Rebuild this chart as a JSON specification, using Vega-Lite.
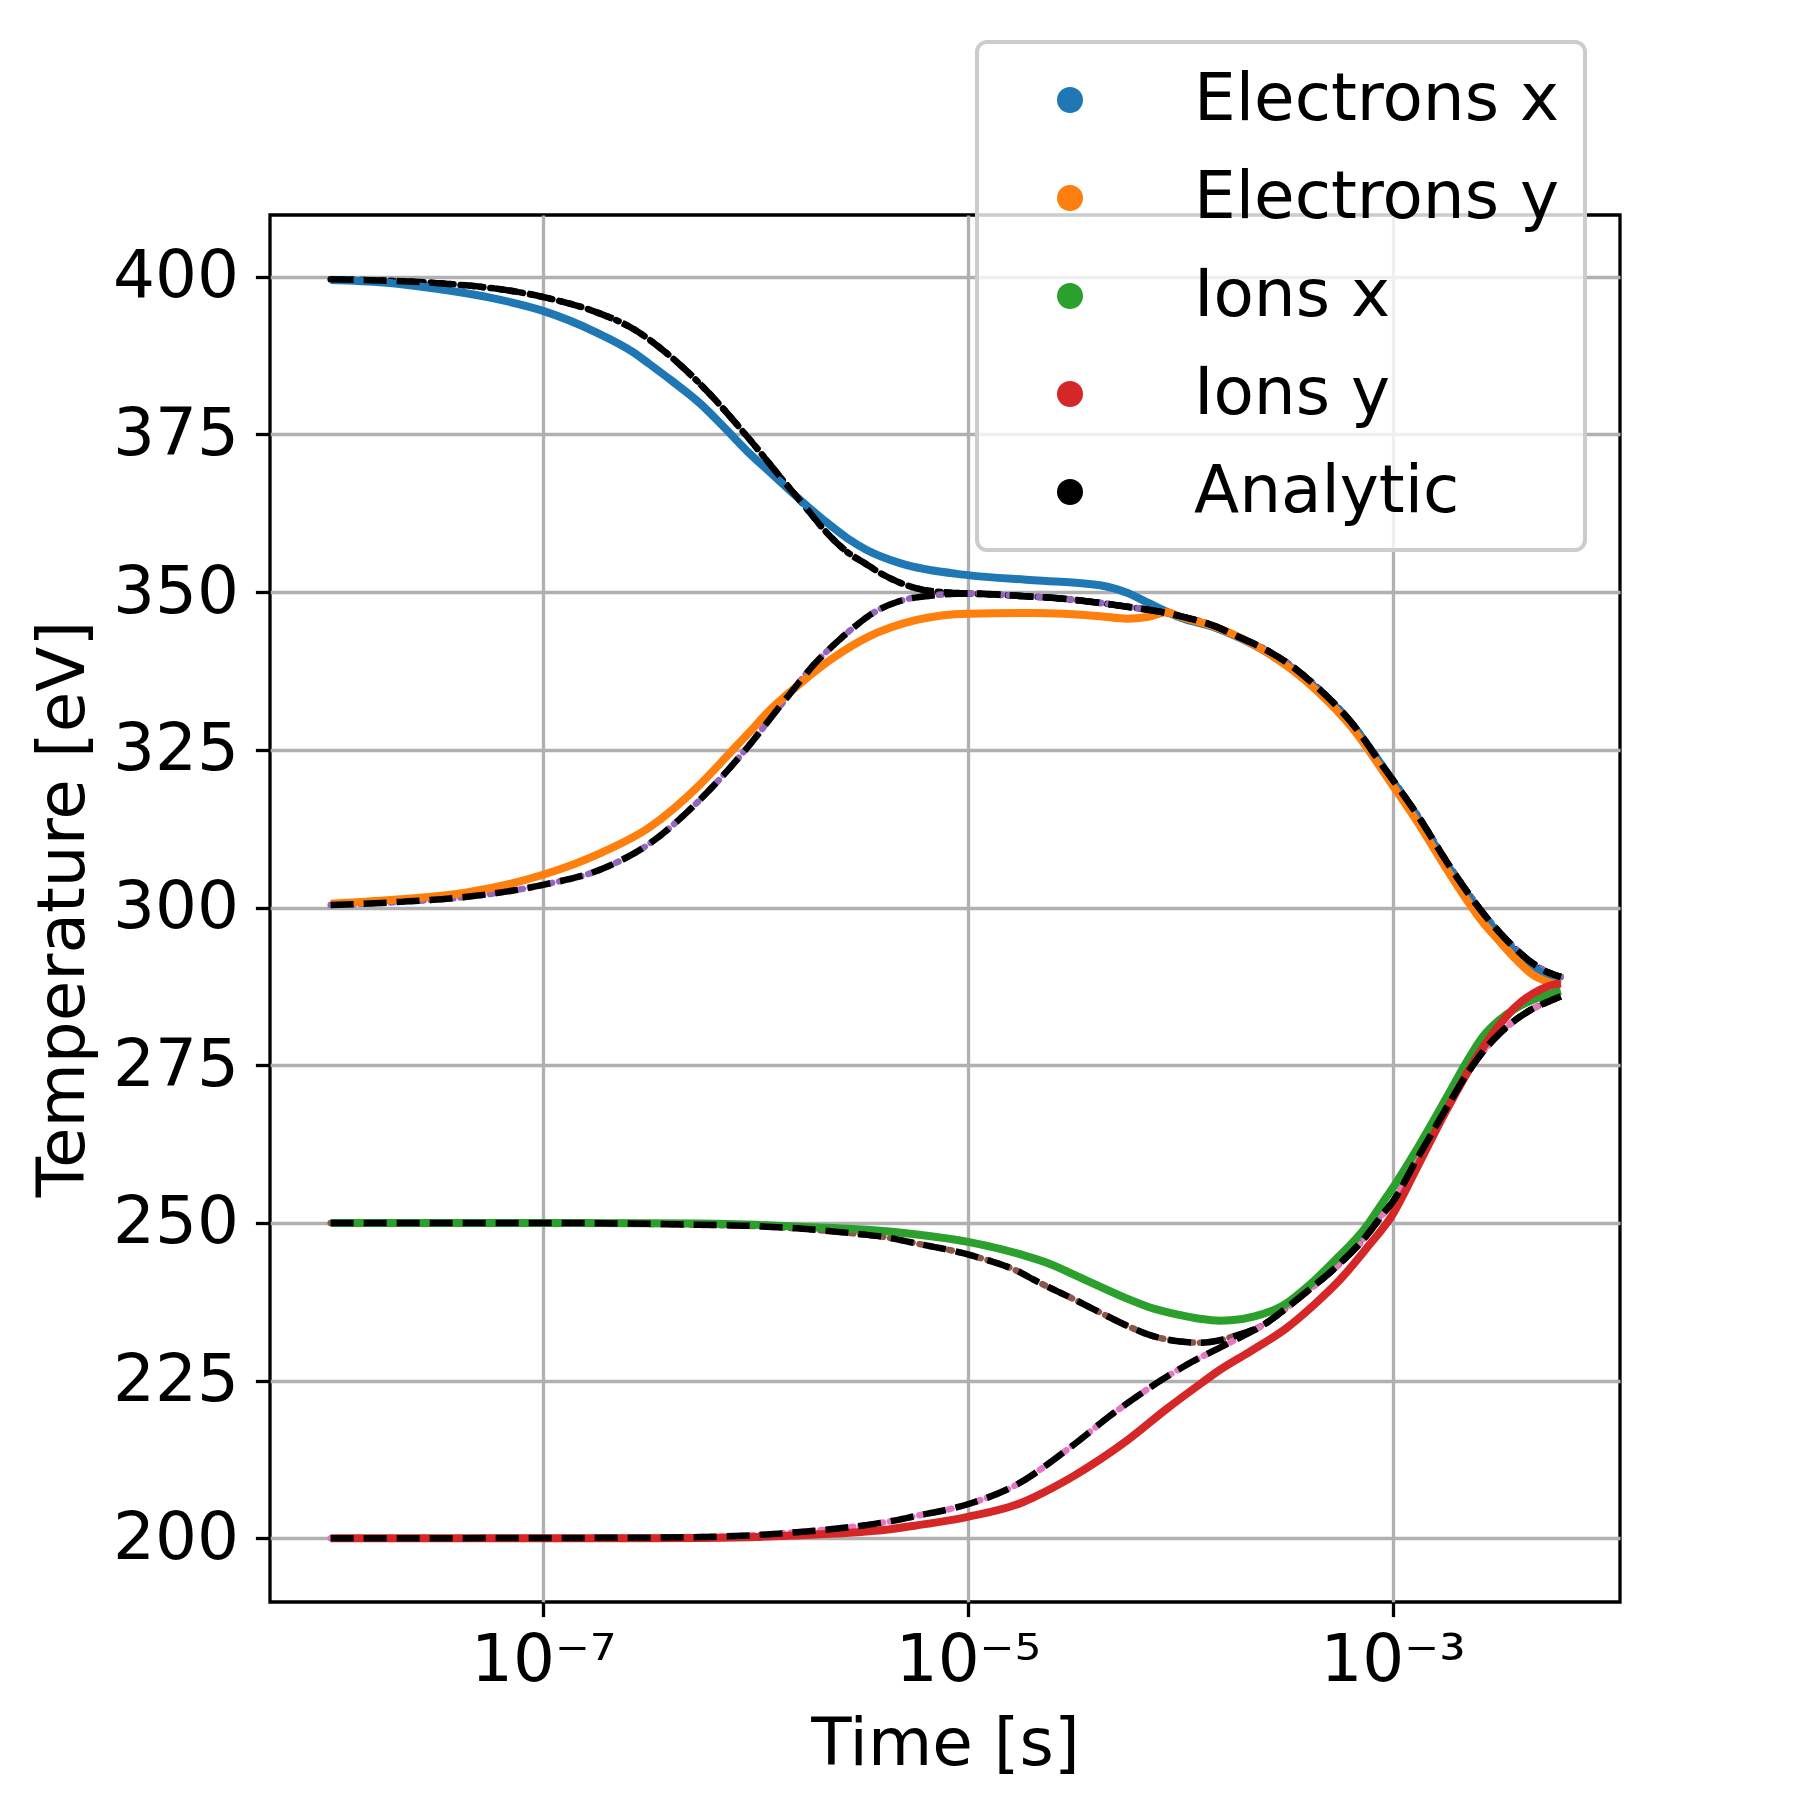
{
  "$schema": "https://vega.github.io/schema/vega-lite/v6.json",
  "autosize": {"type": "none"},
  "padding": {"left": 270, "top": 215, "right": 180, "bottom": 198},
  "width": 1350,
  "height": 1387,
  "background": "white",
  "datasets": {
    "sim": [
      {"t": 1e-8, "T": 399.5, "s": "Electrons x"},
      {"t": 1.778e-8, "T": 399.1, "s": "Electrons x"},
      {"t": 3.162e-8, "T": 398.1, "s": "Electrons x"},
      {"t": 5.623e-8, "T": 396.7, "s": "Electrons x"},
      {"t": 1e-7, "T": 394.6, "s": "Electrons x"},
      {"t": 1.778e-7, "T": 391.2, "s": "Electrons x"},
      {"t": 2.642e-7, "T": 388.1, "s": "Electrons x"},
      {"t": 3.162e-7, "T": 386.2, "s": "Electrons x"},
      {"t": 4.009e-7, "T": 383.6, "s": "Electrons x"},
      {"t": 5.623e-7, "T": 379.6, "s": "Electrons x"},
      {"t": 7.047e-7, "T": 376.3, "s": "Electrons x"},
      {"t": 9.183e-7, "T": 372.3, "s": "Electrons x"},
      {"t": 1.156e-6, "T": 369.2, "s": "Electrons x"},
      {"t": 1.39e-6, "T": 366.7, "s": "Electrons x"},
      {"t": 2.104e-6, "T": 361.4, "s": "Electrons x"},
      {"t": 2.698e-6, "T": 358.6, "s": "Electrons x"},
      {"t": 3.342e-6, "T": 356.7, "s": "Electrons x"},
      {"t": 4.797e-6, "T": 354.6, "s": "Electrons x"},
      {"t": 1e-5, "T": 352.7, "s": "Electrons x"},
      {"t": 2.042e-5, "T": 351.9, "s": "Electrons x"},
      {"t": 4.198e-5, "T": 351.1, "s": "Electrons x"},
      {"t": 5.623e-5, "T": 349.9, "s": "Electrons x"},
      {"t": 7.079e-5, "T": 348.3, "s": "Electrons x"},
      {"t": 8.63e-5, "T": 346.9, "s": "Electrons x"},
      {"t": 1e-4, "T": 346.0, "s": "Electrons x"},
      {"t": 1.486e-4, "T": 344.3, "s": "Electrons x"},
      {"t": 2.553e-4, "T": 340.5, "s": "Electrons x"},
      {"t": 4.395e-4, "T": 334.7, "s": "Electrons x"},
      {"t": 6.31e-4, "T": 329.4, "s": "Electrons x"},
      {"t": 1e-3, "T": 320.1, "s": "Electrons x"},
      {"t": 1.297e-3, "T": 314.5, "s": "Electrons x"},
      {"t": 1.862e-3, "T": 306.1, "s": "Electrons x"},
      {"t": 2.673e-3, "T": 298.6, "s": "Electrons x"},
      {"t": 3.162e-3, "T": 295.9, "s": "Electrons x"},
      {"t": 3.837e-3, "T": 292.7, "s": "Electrons x"},
      {"t": 4.603e-3, "T": 290.5, "s": "Electrons x"},
      {"t": 5.129e-3, "T": 289.5, "s": "Electrons x"},
      {"t": 6.2e-3, "T": 288.4, "s": "Electrons x"},

      {"t": 1e-8, "T": 300.6, "s": "Electrons y"},
      {"t": 2.123e-8, "T": 301.3, "s": "Electrons y"},
      {"t": 4.375e-8, "T": 302.4, "s": "Electrons y"},
      {"t": 1e-7, "T": 305.2, "s": "Electrons y"},
      {"t": 1.854e-7, "T": 308.6, "s": "Electrons y"},
      {"t": 3.162e-7, "T": 312.7, "s": "Electrons y"},
      {"t": 5.483e-7, "T": 319.5, "s": "Electrons y"},
      {"t": 7.87e-7, "T": 325.1, "s": "Electrons y"},
      {"t": 9.441e-7, "T": 327.9, "s": "Electrons y"},
      {"t": 1.13e-6, "T": 330.8, "s": "Electrons y"},
      {"t": 1.622e-6, "T": 335.5, "s": "Electrons y"},
      {"t": 2.328e-6, "T": 339.6, "s": "Electrons y"},
      {"t": 3.342e-6, "T": 342.8, "s": "Electrons y"},
      {"t": 5.741e-6, "T": 345.6, "s": "Electrons y"},
      {"t": 1e-5, "T": 346.6, "s": "Electrons y"},
      {"t": 2.042e-5, "T": 346.7, "s": "Electrons y"},
      {"t": 4.198e-5, "T": 346.2, "s": "Electrons y"},
      {"t": 5.623e-5, "T": 345.8, "s": "Electrons y"},
      {"t": 7.079e-5, "T": 346.1, "s": "Electrons y"},
      {"t": 8.63e-5, "T": 346.8, "s": "Electrons y"},
      {"t": 1e-4, "T": 346.1, "s": "Electrons y"},
      {"t": 1.486e-4, "T": 344.4, "s": "Electrons y"},
      {"t": 2.553e-4, "T": 340.5, "s": "Electrons y"},
      {"t": 4.395e-4, "T": 334.4, "s": "Electrons y"},
      {"t": 6.31e-4, "T": 328.9, "s": "Electrons y"},
      {"t": 1e-3, "T": 319.4, "s": "Electrons y"},
      {"t": 1.297e-3, "T": 313.8, "s": "Electrons y"},
      {"t": 1.862e-3, "T": 305.3, "s": "Electrons y"},
      {"t": 2.673e-3, "T": 297.6, "s": "Electrons y"},
      {"t": 3.162e-3, "T": 294.8, "s": "Electrons y"},
      {"t": 3.837e-3, "T": 291.7, "s": "Electrons y"},
      {"t": 4.603e-3, "T": 289.3, "s": "Electrons y"},
      {"t": 5.129e-3, "T": 288.5, "s": "Electrons y"},
      {"t": 6.2e-3, "T": 287.7, "s": "Electrons y"},

      {"t": 1e-8, "T": 250.0, "s": "Ions x"},
      {"t": 1e-7, "T": 250.0, "s": "Ions x"},
      {"t": 3.162e-7, "T": 249.95, "s": "Ions x"},
      {"t": 5.483e-7, "T": 249.9, "s": "Ions x"},
      {"t": 1e-6, "T": 249.7, "s": "Ions x"},
      {"t": 1.622e-6, "T": 249.4, "s": "Ions x"},
      {"t": 3.342e-6, "T": 248.9, "s": "Ions x"},
      {"t": 5.623e-6, "T": 248.2, "s": "Ions x"},
      {"t": 1e-5, "T": 247.0, "s": "Ions x"},
      {"t": 1.778e-5, "T": 245.0, "s": "Ions x"},
      {"t": 2.438e-5, "T": 243.5, "s": "Ions x"},
      {"t": 3.162e-5, "T": 241.8, "s": "Ions x"},
      {"t": 4.198e-5, "T": 239.9, "s": "Ions x"},
      {"t": 5.623e-5, "T": 238.0, "s": "Ions x"},
      {"t": 7.211e-5, "T": 236.6, "s": "Ions x"},
      {"t": 1e-4, "T": 235.4, "s": "Ions x"},
      {"t": 1.239e-4, "T": 234.8, "s": "Ions x"},
      {"t": 1.538e-4, "T": 234.5, "s": "Ions x"},
      {"t": 1.778e-4, "T": 234.6, "s": "Ions x"},
      {"t": 2.239e-4, "T": 235.2, "s": "Ions x"},
      {"t": 3.055e-4, "T": 236.9, "s": "Ions x"},
      {"t": 3.981e-4, "T": 239.9, "s": "Ions x"},
      {"t": 5.26e-4, "T": 243.8, "s": "Ions x"},
      {"t": 7.551e-4, "T": 249.5, "s": "Ions x"},
      {"t": 9.057e-4, "T": 253.4, "s": "Ions x"},
      {"t": 1e-3, "T": 255.5, "s": "Ions x"},
      {"t": 1.297e-3, "T": 261.6, "s": "Ions x"},
      {"t": 1.778e-3, "T": 269.6, "s": "Ions x"},
      {"t": 2.239e-3, "T": 275.6, "s": "Ions x"},
      {"t": 2.673e-3, "T": 279.6, "s": "Ions x"},
      {"t": 3.162e-3, "T": 282.1, "s": "Ions x"},
      {"t": 3.837e-3, "T": 284.1, "s": "Ions x"},
      {"t": 4.603e-3, "T": 285.4, "s": "Ions x"},
      {"t": 6.2e-3, "T": 286.8, "s": "Ions x"},

      {"t": 1e-8, "T": 200.0, "s": "Ions y"},
      {"t": 1e-7, "T": 200.0, "s": "Ions y"},
      {"t": 3.162e-7, "T": 200.0, "s": "Ions y"},
      {"t": 5.483e-7, "T": 200.05, "s": "Ions y"},
      {"t": 1e-6, "T": 200.2, "s": "Ions y"},
      {"t": 1.622e-6, "T": 200.5, "s": "Ions y"},
      {"t": 3.162e-6, "T": 201.0, "s": "Ions y"},
      {"t": 3.999e-6, "T": 201.3, "s": "Ions y"},
      {"t": 5.623e-6, "T": 202.0, "s": "Ions y"},
      {"t": 1e-5, "T": 203.4, "s": "Ions y"},
      {"t": 1.778e-5, "T": 205.6, "s": "Ions y"},
      {"t": 2.042e-5, "T": 206.5, "s": "Ions y"},
      {"t": 3.162e-5, "T": 209.9, "s": "Ions y"},
      {"t": 4.198e-5, "T": 212.5, "s": "Ions y"},
      {"t": 5.623e-5, "T": 215.5, "s": "Ions y"},
      {"t": 8.63e-5, "T": 220.5, "s": "Ions y"},
      {"t": 1.259e-4, "T": 224.6, "s": "Ions y"},
      {"t": 1.538e-4, "T": 226.7, "s": "Ions y"},
      {"t": 2.133e-4, "T": 229.6, "s": "Ions y"},
      {"t": 3.162e-4, "T": 233.3, "s": "Ions y"},
      {"t": 4.395e-4, "T": 237.4, "s": "Ions y"},
      {"t": 5.623e-4, "T": 240.9, "s": "Ions y"},
      {"t": 7.551e-4, "T": 246.0, "s": "Ions y"},
      {"t": 1e-3, "T": 251.3, "s": "Ions y"},
      {"t": 1.297e-3, "T": 258.6, "s": "Ions y"},
      {"t": 1.778e-3, "T": 267.6, "s": "Ions y"},
      {"t": 2.512e-3, "T": 276.5, "s": "Ions y"},
      {"t": 3.206e-3, "T": 281.5, "s": "Ions y"},
      {"t": 3.802e-3, "T": 284.3, "s": "Ions y"},
      {"t": 4.603e-3, "T": 286.4, "s": "Ions y"},
      {"t": 5.37e-3, "T": 287.5, "s": "Ions y"},
      {"t": 6.2e-3, "T": 288.0, "s": "Ions y"}
    ],
    "ana": [
      {"t": 1e-8, "T": 399.6, "s": "Ex"},
      {"t": 3.327e-8, "T": 398.95, "s": "Ex"},
      {"t": 1e-7, "T": 396.8, "s": "Ex"},
      {"t": 1.746e-7, "T": 394.5, "s": "Ex"},
      {"t": 2.642e-7, "T": 391.8, "s": "Ex"},
      {"t": 4.009e-7, "T": 387.3, "s": "Ex"},
      {"t": 6.067e-7, "T": 381.5, "s": "Ex"},
      {"t": 9.183e-7, "T": 374.6, "s": "Ex"},
      {"t": 1.39e-6, "T": 367.2, "s": "Ex"},
      {"t": 1.778e-6, "T": 362.9, "s": "Ex"},
      {"t": 2.104e-6, "T": 359.9, "s": "Ex"},
      {"t": 2.698e-6, "T": 356.4, "s": "Ex"},
      {"t": 3.342e-6, "T": 354.4, "s": "Ex"},
      {"t": 3.981e-6, "T": 352.8, "s": "Ex"},
      {"t": 4.797e-6, "T": 351.5, "s": "Ex"},
      {"t": 5.754e-6, "T": 350.6, "s": "Ex"},
      {"t": 7.943e-6, "T": 349.95, "s": "Ex"},
      {"t": 1e-5, "T": 349.8, "s": "Ex"},
      {"t": 1.778e-5, "T": 349.4, "s": "Ex"},
      {"t": 3.162e-5, "T": 348.8, "s": "Ex"},
      {"t": 4.198e-5, "T": 348.3, "s": "Ex"},
      {"t": 5.623e-5, "T": 347.7, "s": "Ex"},
      {"t": 8.63e-5, "T": 346.7, "s": "Ex"},
      {"t": 1e-4, "T": 346.2, "s": "Ex"},
      {"t": 1.486e-4, "T": 344.5, "s": "Ex"},
      {"t": 1.778e-4, "T": 343.3, "s": "Ex"},
      {"t": 2.553e-4, "T": 340.8, "s": "Ex"},
      {"t": 3.162e-4, "T": 338.9, "s": "Ex"},
      {"t": 4.395e-4, "T": 335.0, "s": "Ex"},
      {"t": 5.623e-4, "T": 331.5, "s": "Ex"},
      {"t": 6.31e-4, "T": 329.6, "s": "Ex"},
      {"t": 9.057e-4, "T": 322.3, "s": "Ex"},
      {"t": 1e-3, "T": 320.3, "s": "Ex"},
      {"t": 1.297e-3, "T": 314.9, "s": "Ex"},
      {"t": 1.862e-3, "T": 306.5, "s": "Ex"},
      {"t": 2.673e-3, "T": 299.1, "s": "Ex"},
      {"t": 3.162e-3, "T": 296.2, "s": "Ex"},
      {"t": 3.837e-3, "T": 293.3, "s": "Ex"},
      {"t": 4.603e-3, "T": 291.1, "s": "Ex"},
      {"t": 5.129e-3, "T": 290.1, "s": "Ex"},
      {"t": 6.2e-3, "T": 289.0, "s": "Ex"},

      {"t": 1e-8, "T": 300.4, "s": "Ey"},
      {"t": 2.123e-8, "T": 300.9, "s": "Ey"},
      {"t": 4.375e-8, "T": 301.7, "s": "Ey"},
      {"t": 1e-7, "T": 303.6, "s": "Ey"},
      {"t": 1.854e-7, "T": 306.0, "s": "Ey"},
      {"t": 3.162e-7, "T": 310.1, "s": "Ey"},
      {"t": 5.483e-7, "T": 317.1, "s": "Ey"},
      {"t": 8.77e-7, "T": 324.6, "s": "Ey"},
      {"t": 1.355e-6, "T": 332.6, "s": "Ey"},
      {"t": 1.945e-6, "T": 339.0, "s": "Ey"},
      {"t": 2.512e-6, "T": 342.6, "s": "Ey"},
      {"t": 2.999e-6, "T": 344.8, "s": "Ey"},
      {"t": 3.467e-6, "T": 346.4, "s": "Ey"},
      {"t": 4.786e-6, "T": 348.6, "s": "Ey"},
      {"t": 6.918e-6, "T": 349.5, "s": "Ey"},
      {"t": 1e-5, "T": 349.8, "s": "Ey"},
      {"t": 1.778e-5, "T": 349.4, "s": "Ey"},
      {"t": 3.162e-5, "T": 348.8, "s": "Ey"},
      {"t": 4.198e-5, "T": 348.3, "s": "Ey"},
      {"t": 5.623e-5, "T": 347.7, "s": "Ey"},
      {"t": 8.63e-5, "T": 346.7, "s": "Ey"},
      {"t": 1e-4, "T": 346.2, "s": "Ey"},
      {"t": 1.486e-4, "T": 344.5, "s": "Ey"},
      {"t": 1.778e-4, "T": 343.3, "s": "Ey"},
      {"t": 2.553e-4, "T": 340.8, "s": "Ey"},
      {"t": 3.162e-4, "T": 338.9, "s": "Ey"},
      {"t": 4.395e-4, "T": 335.0, "s": "Ey"},
      {"t": 5.623e-4, "T": 331.5, "s": "Ey"},
      {"t": 6.31e-4, "T": 329.6, "s": "Ey"},
      {"t": 9.057e-4, "T": 322.3, "s": "Ey"},
      {"t": 1e-3, "T": 320.3, "s": "Ey"},
      {"t": 1.297e-3, "T": 314.9, "s": "Ey"},
      {"t": 1.862e-3, "T": 306.5, "s": "Ey"},
      {"t": 2.673e-3, "T": 299.1, "s": "Ey"},
      {"t": 3.162e-3, "T": 296.2, "s": "Ey"},
      {"t": 3.837e-3, "T": 293.3, "s": "Ey"},
      {"t": 4.603e-3, "T": 291.1, "s": "Ey"},
      {"t": 5.129e-3, "T": 290.1, "s": "Ey"},
      {"t": 6.2e-3, "T": 289.0, "s": "Ey"},

      {"t": 1e-8, "T": 250.0, "s": "Ix"},
      {"t": 1e-7, "T": 250.0, "s": "Ix"},
      {"t": 3.162e-7, "T": 249.85, "s": "Ix"},
      {"t": 5.483e-7, "T": 249.7, "s": "Ix"},
      {"t": 1e-6, "T": 249.5, "s": "Ix"},
      {"t": 1.622e-6, "T": 249.1, "s": "Ix"},
      {"t": 3.162e-6, "T": 248.2, "s": "Ix"},
      {"t": 3.999e-6, "T": 247.8, "s": "Ix"},
      {"t": 5.623e-6, "T": 246.8, "s": "Ix"},
      {"t": 1e-5, "T": 245.0, "s": "Ix"},
      {"t": 1.778e-5, "T": 242.1, "s": "Ix"},
      {"t": 2.042e-5, "T": 241.0, "s": "Ix"},
      {"t": 3.162e-5, "T": 237.9, "s": "Ix"},
      {"t": 4.198e-5, "T": 235.8, "s": "Ix"},
      {"t": 5.623e-5, "T": 233.7, "s": "Ix"},
      {"t": 7.211e-5, "T": 232.2, "s": "Ix"},
      {"t": 1e-4, "T": 231.2, "s": "Ix"},
      {"t": 1.239e-4, "T": 231.0, "s": "Ix"},
      {"t": 1.538e-4, "T": 231.4, "s": "Ix"},
      {"t": 1.778e-4, "T": 232.0, "s": "Ix"},
      {"t": 2.512e-4, "T": 234.0, "s": "Ix"},
      {"t": 3.055e-4, "T": 236.1, "s": "Ix"},
      {"t": 3.981e-4, "T": 239.2, "s": "Ix"},
      {"t": 5.26e-4, "T": 242.6, "s": "Ix"},
      {"t": 7.551e-4, "T": 248.0, "s": "Ix"},
      {"t": 9.057e-4, "T": 251.5, "s": "Ix"},
      {"t": 1e-3, "T": 253.3, "s": "Ix"},
      {"t": 1.297e-3, "T": 260.0, "s": "Ix"},
      {"t": 1.778e-3, "T": 268.0, "s": "Ix"},
      {"t": 2.239e-3, "T": 273.6, "s": "Ix"},
      {"t": 2.673e-3, "T": 277.2, "s": "Ix"},
      {"t": 3.206e-3, "T": 280.1, "s": "Ix"},
      {"t": 3.837e-3, "T": 282.3, "s": "Ix"},
      {"t": 4.603e-3, "T": 284.0, "s": "Ix"},
      {"t": 5.508e-3, "T": 285.2, "s": "Ix"},
      {"t": 6.2e-3, "T": 285.9, "s": "Ix"},

      {"t": 1e-8, "T": 200.0, "s": "Iy"},
      {"t": 1e-7, "T": 200.05, "s": "Iy"},
      {"t": 3.162e-7, "T": 200.1, "s": "Iy"},
      {"t": 5.483e-7, "T": 200.2, "s": "Iy"},
      {"t": 1e-6, "T": 200.5, "s": "Iy"},
      {"t": 1.622e-6, "T": 201.0, "s": "Iy"},
      {"t": 3.162e-6, "T": 202.0, "s": "Iy"},
      {"t": 3.999e-6, "T": 202.5, "s": "Iy"},
      {"t": 5.623e-6, "T": 203.5, "s": "Iy"},
      {"t": 1e-5, "T": 205.4, "s": "Iy"},
      {"t": 1.698e-5, "T": 208.5, "s": "Iy"},
      {"t": 2.924e-5, "T": 214.0, "s": "Iy"},
      {"t": 5.023e-5, "T": 220.2, "s": "Iy"},
      {"t": 6.026e-5, "T": 222.1, "s": "Iy"},
      {"t": 8.63e-5, "T": 225.6, "s": "Iy"},
      {"t": 1.035e-4, "T": 227.2, "s": "Iy"},
      {"t": 1.778e-4, "T": 231.3, "s": "Iy"},
      {"t": 2.512e-4, "T": 234.0, "s": "Iy"},
      {"t": 3.055e-4, "T": 236.1, "s": "Iy"},
      {"t": 3.981e-4, "T": 239.2, "s": "Iy"},
      {"t": 5.26e-4, "T": 242.6, "s": "Iy"},
      {"t": 7.551e-4, "T": 248.0, "s": "Iy"},
      {"t": 9.057e-4, "T": 251.5, "s": "Iy"},
      {"t": 1e-3, "T": 253.3, "s": "Iy"},
      {"t": 1.297e-3, "T": 260.0, "s": "Iy"},
      {"t": 1.778e-3, "T": 268.0, "s": "Iy"},
      {"t": 2.239e-3, "T": 273.6, "s": "Iy"},
      {"t": 2.673e-3, "T": 277.2, "s": "Iy"},
      {"t": 3.206e-3, "T": 280.1, "s": "Iy"},
      {"t": 3.837e-3, "T": 282.3, "s": "Iy"},
      {"t": 4.603e-3, "T": 284.0, "s": "Iy"},
      {"t": 5.508e-3, "T": 285.2, "s": "Iy"},
      {"t": 6.2e-3, "T": 285.9, "s": "Iy"}
    ]
  },
  "encoding": {
    "x": {
      "field": "t",
      "type": "quantitative",
      "title": "Time [s]",
      "scale": {"type": "log", "domain": [5.18e-9, 1.178e-2], "nice": false},
      "axis": {
        "values": [1e-7, 1e-5, 1e-3],
        "labelExpr": "datum.value < 1e-6 ? '10⁻⁷' : datum.value < 1e-4 ? '10⁻⁵' : '10⁻³'",
        "labelPadding": 12,
        "titlePadding": 19
      }
    },
    "y": {
      "field": "T",
      "type": "quantitative",
      "title": "Temperature [eV]",
      "scale": {"domain": [189.9, 409.8], "nice": false, "zero": false},
      "axis": {
        "values": [200, 225, 250, 275, 300, 325, 350, 375, 400],
        "labelPadding": 17,
        "titlePadding": 15
      }
    }
  },
  "layer": [
    {
      "data": {"name": "ana"},
      "mark": {"type": "line", "interpolate": "monotone", "strokeWidth": 6.5, "strokeDash": [3, 7], "strokeCap": "round"},
      "encoding": {
        "color": {
          "field": "s",
          "type": "nominal",
          "scale": {
            "domain": ["Electrons x", "Electrons y", "Ions x", "Ions y", "Analytic", "Ex", "Ey", "Ix", "Iy"],
            "range": ["#1f77b4", "#ff7f0e", "#2ca02c", "#d62728", "#000000", "#000000", "#9467bd", "#8c564b", "#e377c2"]
          }
        }
      }
    },
    {
      "data": {"name": "sim"},
      "mark": {"type": "line", "interpolate": "monotone", "strokeWidth": 8},
      "encoding": {
        "color": {
          "field": "s",
          "type": "nominal",
          "scale": {
            "domain": ["Electrons x", "Electrons y", "Ions x", "Ions y", "Analytic", "Ex", "Ey", "Ix", "Iy"],
            "range": ["#1f77b4", "#ff7f0e", "#2ca02c", "#d62728", "#000000", "#000000", "#9467bd", "#8c564b", "#e377c2"]
          },
          "legend": {
            "title": null,
            "values": ["Electrons x", "Electrons y", "Ions x", "Ions y", "Analytic"],
            "orient": "none",
            "legendX": 707,
            "legendY": -173,
            "symbolType": "circle",
            "symbolSize": 676,
            "symbolStrokeWidth": 0,
            "symbolOffset": 35,
            "labelOffset": 91,
            "labelFontSize": 66,
            "labelFont": "DejaVu Sans",
            "labelColor": "black",
            "labelLimit": 0,
            "rowPadding": 32,
            "padding": 25,
            "fillColor": "rgba(255,255,255,0.8)",
            "strokeColor": "#cccccc",
            "cornerRadius": 10,
            "encode": {
              "legend": {
                "update": {
                  "strokeWidth": {"value": 4}
                }
              },
              "symbols": {
                "update": {
                  "fill": {"scale": "color", "field": "value"},
                  "stroke": {"value": "transparent"},
                  "opacity": {"value": 1}
                }
              }
            }
          }
        }
      }
    },
    {
      "data": {"name": "ana"},
      "mark": {"type": "line", "interpolate": "monotone", "strokeWidth": 6.5, "strokeDash": [23, 10], "color": "black"},
      "encoding": {
        "detail": {"field": "s", "type": "nominal"}
      }
    }
  ],
  "config": {
    "font": "DejaVu Sans",
    "view": {"stroke": "black", "strokeWidth": 3.3},
    "axis": {
      "domain": false,
      "grid": true,
      "gridColor": "#b0b0b0",
      "gridWidth": 3.3,
      "tickColor": "black",
      "tickWidth": 3.3,
      "tickSize": 14.6,
      "labelFont": "DejaVu Sans",
      "labelFontSize": 66,
      "labelColor": "black",
      "titleFont": "DejaVu Sans",
      "titleFontSize": 66,
      "titleFontWeight": "normal",
      "titleColor": "black"
    }
  }
}
